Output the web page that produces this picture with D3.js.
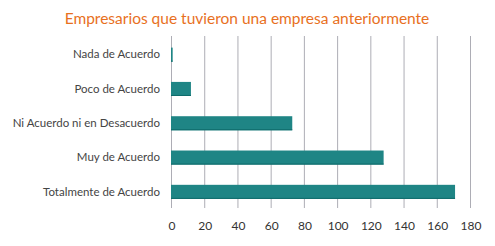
<!DOCTYPE html>
<html><head><meta charset="utf-8">
<script src="https://cdn.jsdelivr.net/npm/d3@7"></script>
<style>body{margin:0;background:#fff}svg{display:block}</style>
</head><body>
<svg id="c" width="495" height="246"></svg>
<script>
const categories = ["Nada de Acuerdo","Poco de Acuerdo","Ni Acuerdo ni en Desacuerdo","Muy de Acuerdo","Totalmente de Acuerdo"];
const values = [1, 12, 73, 128, 171];
const tickValues = [0,20,40,60,80,100,120,140,160,180];
const title = "Empresarios que tuvieron una empresa anteriormente";

const svg = d3.select("#c");
const font = "Lato, 'DejaVu Sans', sans-serif";
const x = d3.scaleLinear().domain([0,180]).range([171,470]);
const y = d3.scaleBand().domain(categories).range([37.5,209]).paddingInner(0.59).paddingOuter(0.295);

svg.append("text").attr("x",247).attr("y",23.5).attr("text-anchor","middle")
  .attr("font-family",font).attr("font-size",15.5).attr("fill","#e8701e").text(title);

svg.append("g").selectAll("line").data(tickValues).join("line")
  .attr("x1",d=>x(d)+0.5).attr("x2",d=>x(d)+0.5).attr("y1",36).attr("y2",208)
  .attr("stroke","#adadb5").attr("stroke-width",1);

svg.append("g").selectAll("rect").data(values).join("rect")
  .attr("x",x(0)).attr("y",(d,i)=>y(categories[i]))
  .attr("width",d=>x(d)-x(0)).attr("height",y.bandwidth())
  .attr("fill","#1f8585");
svg.append("g").selectAll("line").data(values).join("line")
  .attr("x1",x(0)).attr("x2",d=>x(d)).attr("y1",(d,i)=>y(categories[i])+y.bandwidth()-0.5).attr("y2",(d,i)=>y(categories[i])+y.bandwidth()-0.5)
  .attr("stroke","#0e6a6a").attr("stroke-width",1);

const ax = d3.axisBottom(x).tickValues(tickValues).tickSize(0).tickPadding(0);
const gx = svg.append("g").attr("transform","translate(0.5,221)").call(ax);
gx.select(".domain").remove();
gx.selectAll("text").attr("font-family",font).attr("font-size",12).attr("fill","#333").attr("dy","0.71em");

const ay = d3.axisLeft(y).tickSize(0).tickPadding(0);
const gy = svg.append("g").attr("transform","translate(160,0)").call(ay);
gy.select(".domain").remove();
gy.selectAll("text").attr("font-family",font).attr("font-size",11.5).attr("fill","#444");
</script>
</body></html>
